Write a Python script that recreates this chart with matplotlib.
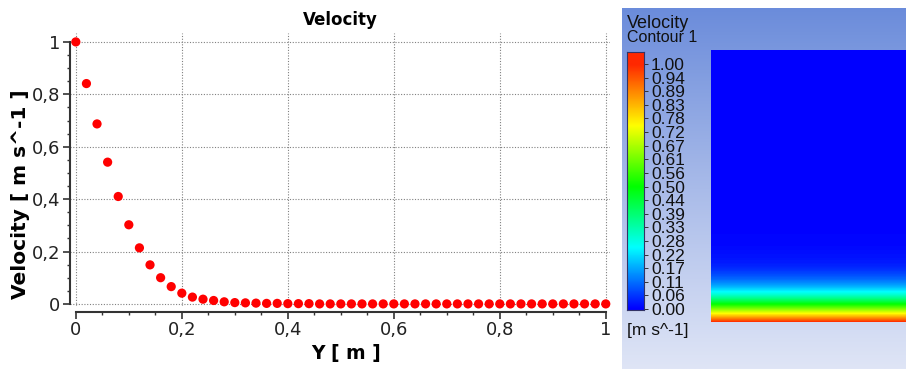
import numpy as np
import matplotlib.pyplot as plt
from matplotlib.colors import LinearSegmentedColormap
from matplotlib.ticker import MultipleLocator

# sampled line: Y [m] and velocity [m s^-1]
y_pos = [0.00, 0.02, 0.04, 0.06, 0.08, 0.10, 0.12, 0.14, 0.16, 0.18,
         0.20, 0.22, 0.24, 0.26, 0.28, 0.30, 0.32, 0.34, 0.36, 0.38,
         0.40, 0.42, 0.44, 0.46, 0.48, 0.50, 0.52, 0.54, 0.56, 0.58,
         0.60, 0.62, 0.64, 0.66, 0.68, 0.70, 0.72, 0.74, 0.76, 0.78,
         0.80, 0.82, 0.84, 0.86, 0.88, 0.90, 0.92, 0.94, 0.96, 0.98, 1.00]
velocity = [1.000, 0.841, 0.687, 0.541, 0.410, 0.302, 0.214, 0.149, 0.100, 0.066,
            0.041, 0.026, 0.018, 0.013, 0.008, 0.005, 0.004, 0.003, 0.002, 0.002,
            0.001, 0.001, 0.001, 0.000, 0.000, 0.000, 0.000, 0.000, 0.000, 0.000,
            0.000, 0.000, 0.000, 0.000, 0.000, 0.000, 0.000, 0.000, 0.000, 0.000,
            0.000, 0.000, 0.000, 0.000, 0.000, 0.000, 0.000, 0.000, 0.000, 0.000, 0.000]

x_ticks = [0, 0.2, 0.4, 0.6, 0.8, 1]
x_labels = ['0', '0,2', '0,4', '0,6', '0,8', '1']
y_ticks = [0, 0.2, 0.4, 0.6, 0.8, 1]
y_labels = ['0', '0,2', '0,4', '0,6', '0,8', '1']

cbar_labels = ['1.00', '0.94', '0.89', '0.83', '0.78', '0.72', '0.67', '0.61', '0.56', '0.50',
               '0.44', '0.39', '0.33', '0.28', '0.22', '0.17', '0.11', '0.06', '0.00']

W, H = 906, 369
fig = plt.figure(figsize=(W / 100, H / 100), dpi=100)

# ---- left: line plot ----
ax = fig.add_axes([70 / W, (H - 306) / H, 540 / W, 273 / H])
ax.scatter(y_pos, velocity, s=44, color='#ff0000', edgecolors='none', zorder=3, clip_on=False)
ax.set_xlim(-0.011, 1.008)
ax.set_ylim(-0.008, 1.034)
ax.set_xticks(x_ticks)
ax.set_xticklabels(x_labels)
ax.set_yticks(y_ticks)
ax.set_yticklabels(y_labels)
ax.xaxis.set_minor_locator(MultipleLocator(0.05))
ax.yaxis.set_minor_locator(MultipleLocator(0.05))
ax.grid(True, which='major', linestyle=(0, (1, 1.5)), color='#808080', linewidth=0.8)
for s in ['top', 'right']:
    ax.spines[s].set_visible(False)
ax.spines['left'].set_bounds(0, 1)
ax.spines['bottom'].set_bounds(0, 1)
ax.spines['bottom'].set_position(('outward', 4))
for s in ['left', 'bottom']:
    ax.spines[s].set_linewidth(1.5)
    ax.spines[s].set_color('#333333')
ax.tick_params(which='major', length=5, width=1.2, color='#333333', labelsize=13,
               labelcolor='#222222', pad=2)
ax.tick_params(which='minor', length=2.5, width=1.0, color='#333333')
ax.set_title('Velocity', fontsize=12, fontweight='bold', pad=6)
ax.set_xlabel('Y [ m ]', fontsize=13.5, fontweight='bold')
ax.set_ylabel('Velocity [ m s^-1 ]', fontsize=14.5, fontweight='bold')
ax.xaxis.set_label_coords(0.511, -0.14)
ax.yaxis.set_label_coords(-0.074, 0.41)

# ---- right: contour panel ----
bg_cmap = LinearSegmentedColormap.from_list('bg', ['#dfe5f6', '#a9bbe9', '#6b8cdb'])
bg = fig.add_axes([622 / W, 0, 284 / W, 361 / H])
bg.imshow(np.linspace(0, 1, 256).reshape(-1, 1), cmap=bg_cmap, aspect='auto',
          origin='lower', extent=[0, 1, 0, 1])
bg.axis('off')

ansys = LinearSegmentedColormap.from_list(
    'ansys', [(0.0, '#0000ff'), (0.25, '#00ffff'), (0.5, '#00ff00'),
              (0.75, '#ffff00'), (1.0, '#ff2800')])

ci = fig.add_axes([711 / W, (H - 322) / H, 195 / W, 272 / H])
step = y_pos[1] - y_pos[0]
ci.imshow(np.array(velocity).reshape(-1, 1), cmap=ansys, vmin=0, vmax=1, aspect='auto',
          origin='lower', interpolation='bilinear', interpolation_stage='data',
          extent=[0, 1, y_pos[0] - step / 2, y_pos[-1] + step / 2])
ci.set_ylim(y_pos[0], y_pos[-1])
ci.axis('off')

# colour legend: the red end runs a little past the 1.00 label
cb_lo, cb_hi = -0.004, 1.049
cax = fig.add_axes([627 / W, (H - 310) / H, 17 / W, 258 / H])
cax.imshow(np.linspace(cb_lo, cb_hi, 512).reshape(-1, 1), cmap=ansys, vmin=0, vmax=1,
           aspect='auto', origin='lower', extent=[0, 1, cb_lo, cb_hi])
cax.set_xlim(0, 1)
cax.set_ylim(cb_lo, cb_hi)
cax.set_xticks([])
cax.yaxis.tick_right()
cax.set_yticks(np.linspace(1, 0, len(cbar_labels)))
cax.set_yticklabels(cbar_labels)
for s in cax.spines.values():
    s.set_linewidth(0.8)
    s.set_edgecolor('#333366')
cax.tick_params(length=3, width=0.7, color='#333333', pad=2, labelsize=12.5)
for t in cax.get_yticklabels():
    t.set_family('Liberation Sans')
    t.set_color('#111111')

fig.text(627 / W, 1 - 28 / H, 'Velocity', fontsize=13, family='Liberation Sans',
         color='#111111', va='baseline')
fig.text(627 / W, 1 - 42 / H, 'Contour 1', fontsize=11.5, family='Liberation Sans',
         color='#111111', va='baseline')
fig.text(627 / W, 1 - 335 / H, '[m s^-1]', fontsize=12.5, family='Liberation Sans',
         color='#111111', va='baseline')

fig.savefig('out.png', dpi=100)
